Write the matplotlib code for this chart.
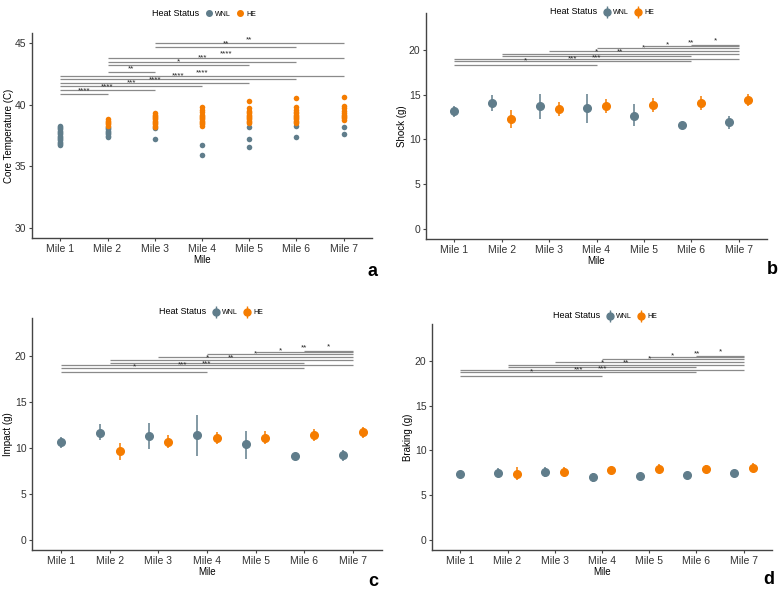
import matplotlib
matplotlib.use("Agg")
import matplotlib.pyplot as plt
from matplotlib.lines import Line2D
from matplotlib.legend_handler import HandlerTuple
import numpy as np

plt.rcParams["font.family"] = ["Liberation Sans", "DejaVu Sans"]

miles = ["Mile 1", "Mile 2", "Mile 3", "Mile 4", "Mile 5", "Mile 6", "Mile 7"]
WNL_COL = "#607D8B"
HE_COL = "#F57C00"

# panel a: individual core temperatures per mile
core_wnl = [
    [36.7, 36.8, 36.9, 37.0, 37.1, 37.2, 37.3, 37.4, 37.5, 37.6, 37.7, 37.8, 37.9, 38.0, 38.1, 38.2, 38.3],
    [37.4, 37.5, 37.6, 37.7, 37.8, 37.9, 38.0, 38.1, 38.2],
    [37.2, 38.1],
    [35.9, 36.7],
    [36.6, 37.2, 38.2],
    [37.4, 38.3],
    [37.6, 38.15],
]
core_he = [
    [],
    [38.3, 38.4, 38.5, 38.6, 38.7, 38.8],
    [38.2, 38.3, 38.4, 38.5, 38.6, 38.7, 38.8, 38.9, 39.0, 39.1, 39.2, 39.3],
    [38.3, 38.4, 38.5, 38.6, 38.7, 38.8, 38.9, 39.0, 39.1, 39.2, 39.4, 39.6, 39.8],
    [38.5, 38.6, 38.7, 38.8, 38.9, 39.0, 39.1, 39.2, 39.3, 39.4, 39.5, 39.7, 40.3],
    [38.5, 38.6, 38.7, 38.8, 38.9, 39.0, 39.1, 39.2, 39.3, 39.4, 39.6, 39.8, 40.5],
    [38.75, 38.9, 39.0, 39.1, 39.2, 39.3, 39.5, 39.7, 39.9, 40.6],
]
core_pairs = [(1, 2), (1, 3), (1, 4), (1, 5), (1, 6), (1, 7), (2, 3), (2, 5), (2, 6), (2, 7), (3, 6), (3, 7)]
core_sig = ["****", "****", "***", "****", "****", "****", "**", "*", "***", "****", "**", "**"]
core_line_y = [40.85, 41.17, 41.47, 41.74, 42.04, 42.33, 42.63, 43.19, 43.49, 43.79, 44.65, 44.97]

# panels b-d: mean and interval per mile (HE has no Mile 1 value)
shock_wnl = [13.15, 14.1, 13.7, 13.5, 12.67, 11.63, 11.9]
shock_wnl_lo = [12.5, 13.15, 12.25, 11.85, 11.5, 11.4, 11.2]
shock_wnl_hi = [13.7, 15.0, 15.1, 15.1, 13.9, 11.85, 12.6]
shock_he = [np.nan, 12.33, 13.37, 13.7, 13.8, 14.07, 14.37]
shock_he_lo = [np.nan, 11.33, 12.6, 12.96, 13.07, 13.33, 13.7]
shock_he_hi = [np.nan, 13.25, 14.2, 14.5, 14.6, 14.8, 15.1]

impact_wnl = [10.62, 11.63, 11.27, 11.34, 10.36, 9.06, 9.2]
impact_wnl_lo = [10.0, 10.8, 9.82, 9.1, 8.8, 8.9, 8.6]
impact_wnl_hi = [11.2, 12.54, 12.72, 13.55, 11.85, 9.2, 9.8]
impact_he = [np.nan, 9.6, 10.65, 11.09, 11.09, 11.41, 11.7]
impact_he_lo = [np.nan, 8.73, 10.0, 10.36, 10.36, 10.72, 11.09]
impact_he_hi = [np.nan, 10.47, 11.34, 11.7, 11.8, 12.0, 12.3]

brake_wnl = [7.36, 7.54, 7.58, 7.02, 7.1, 7.28, 7.47]
brake_wnl_lo = [7.1, 7.1, 7.0, 6.46, 6.87, 7.1, 7.24]
brake_wnl_hi = [7.65, 8.0, 8.2, 7.47, 7.28, 7.47, 7.65]
brake_he = [np.nan, 7.39, 7.65, 7.77, 7.95, 7.91, 8.06]
brake_he_lo = [np.nan, 6.72, 7.2, 7.36, 7.47, 7.47, 7.58]
brake_he_hi = [np.nan, 8.1, 8.2, 8.2, 8.47, 8.4, 8.58]

sig_pairs = [(1, 4), (1, 6), (1, 7), (2, 6), (2, 7), (3, 7), (4, 7), (5, 7), (6, 7)]
sig_labels = ["*", "***", "***", "*", "**", "*", "*", "**", "*"]
sig_line_y = [18.26, 18.7, 19.0, 19.26, 19.51, 19.81, 20.15, 20.46, 20.56]
sig_text_y = [18.8, 18.98, 19.1, 19.75, 19.72, 20.25, 20.55, 20.8, 20.95]

fig = plt.figure(figsize=(7.81, 5.89), dpi=100)
W, H = 781, 589


def add_ax(l, r, t, b):
    return fig.add_axes([l / W, (H - b) / H, (r - l) / W, (b - t) / H])


def style(ax, ylab, ylim, yticks):
    for s in ["top", "right"]:
        ax.spines[s].set_visible(False)
    for s in ["left", "bottom"]:
        ax.spines[s].set_color("#444444")
        ax.spines[s].set_linewidth(1.0)
    ax.set_xlim(0.4, 7.6)
    ax.set_ylim(*ylim)
    ax.set_yticks(yticks)
    ax.set_xticks(range(1, 8))
    ax.set_xticklabels(miles)
    ax.tick_params(direction="out", length=2.5, width=0.8, color="#444444",
                   labelsize=7.5, labelcolor="#333333", pad=1.5)
    ax.set_xlabel("Mile", fontsize=7, labelpad=1)
    ax.set_ylabel(ylab, fontsize=7, labelpad=1)


def brackets(ax, pairs, labels, line_y, text_y):
    for (a, b), lab, ly, ty in zip(pairs, labels, line_y, text_y):
        ax.plot([a, b], [ly, ly], color="#8a8a8a", lw=0.9, solid_capstyle="butt")
        ax.text((a + b) / 2, ty, lab, ha="center", va="center", fontsize=5.8, color="#222222")


def legend(ax, cx, cy, bars):
    if bars:
        hw = (Line2D([], [], color=WNL_COL, marker="|", markersize=9, mew=1, ls="none"),
              Line2D([], [], color=WNL_COL, marker="o", markersize=5, ls="none"))
        hh = (Line2D([], [], color=HE_COL, marker="|", markersize=9, mew=1, ls="none"),
              Line2D([], [], color=HE_COL, marker="o", markersize=5, ls="none"))
    else:
        hw = Line2D([], [], color=WNL_COL, marker="o", markersize=4, ls="none")
        hh = Line2D([], [], color=HE_COL, marker="o", markersize=4, ls="none")
    blank = Line2D([], [], color="none")
    leg = ax.legend([blank, hw, hh], ["Heat Status", "WNL", "HE"], ncol=3, frameon=False,
                    loc="center", bbox_to_anchor=(cx / W, 1 - cy / H), bbox_transform=fig.transFigure,
                    handlelength=0.8, handletextpad=0.4, columnspacing=1.0, fontsize=5,
                    handler_map={tuple: HandlerTuple(ndivide=1)})
    t = leg.get_texts()
    t[0].set_fontsize(6.5)
    return leg


# ---- panel a
ax = add_ax(32, 372, 33, 238)
for i in range(7):
    if core_wnl[i]:
        ax.scatter([i + 1] * len(core_wnl[i]), core_wnl[i], s=16, color=WNL_COL, lw=0, zorder=3)
    if core_he[i]:
        ax.scatter([i + 1] * len(core_he[i]), core_he[i], s=16, color=HE_COL, lw=0, zorder=3)
style(ax, "Core Temperature (C)", (29.2, 45.8), [30, 35, 40, 45])
brackets(ax, core_pairs, core_sig, core_line_y, [v + 0.28 for v in core_line_y])
legend(ax, 200, 13, False)
fig.text(373 / W, 1 - 272 / H, "a", fontsize=13, fontweight="bold", ha="center", va="center")


def summary_panel(ax, wm, wlo, whi, hm, hlo, hhi, ylab):
    x = np.arange(1, 8, dtype=float)
    xw = x - 0.2
    xw[0] = 1.0
    xh = x + 0.2
    ax.vlines(xw, wlo, whi, color=WNL_COL, lw=1.1, zorder=2)
    ax.plot(xw, wm, "o", color=WNL_COL, markersize=5.5, zorder=3)
    ax.vlines(xh, hlo, hhi, color=HE_COL, lw=1.1, zorder=2)
    ax.plot(xh, hm, "o", color=HE_COL, markersize=5.5, zorder=3)
    style(ax, ylab, (-1.1, 24.1), [0, 5, 10, 15, 20])
    brackets(ax, sig_pairs, sig_labels, sig_line_y, sig_text_y)


# ---- panel b
ax = add_ax(426, 767, 13, 239)
summary_panel(ax, shock_wnl, shock_wnl_lo, shock_wnl_hi, shock_he, shock_he_lo, shock_he_hi, "Shock (g)")
legend(ax, 598, 12, True)
fig.text(772 / W, 1 - 270 / H, "b", fontsize=13, fontweight="bold", ha="center", va="center")

# ---- panel c
ax = add_ax(32, 382, 318, 550)
summary_panel(ax, impact_wnl, impact_wnl_lo, impact_wnl_hi, impact_he, impact_he_lo, impact_he_hi, "Impact (g)")
legend(ax, 207, 312, True)
fig.text(373 / W, 1 - 581 / H, "c", fontsize=13, fontweight="bold", ha="center", va="center")

# ---- panel d
ax = add_ax(432, 772, 324, 550)
summary_panel(ax, brake_wnl, brake_wnl_lo, brake_wnl_hi, brake_he, brake_he_lo, brake_he_hi, "Braking (g)")
legend(ax, 601, 316, True)
fig.text(769 / W, 1 - 580 / H, "d", fontsize=13, fontweight="bold", ha="center", va="center")

fig.savefig("out.png", dpi=100)
